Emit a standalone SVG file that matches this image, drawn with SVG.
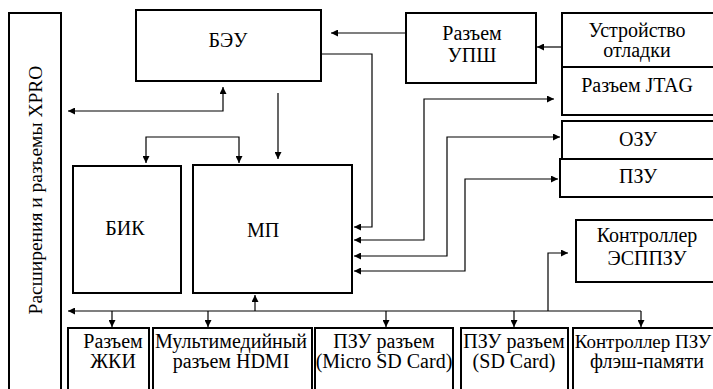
<svg xmlns="http://www.w3.org/2000/svg" width="713" height="389" viewBox="0 0 713 389">
<style>
.box{fill:#fff;stroke:#000;stroke-width:2}
.ln{fill:none;stroke:#000;stroke-width:1.2}
</style>
<defs>
<marker id="ah" viewBox="0 0 10 10" refX="10" refY="5" markerWidth="8" markerHeight="7" markerUnits="userSpaceOnUse" orient="auto-start-reverse">
<path d="M0,0 L10,5 L0,10 Z" fill="#000"/>
</marker>
</defs>
<rect width="713" height="389" fill="#fff"/>
<g text-anchor="middle" fill="#000">
<g id="xpro"><rect class="box" x="9" y="13" width="52" height="390"/><text transform="translate(42,190) rotate(-90)" font-family="'Liberation Serif', serif" font-size="19.5">Расширения и разъемы XPRO</text></g>
<g id="beu"><rect class="box" x="136" y="10" width="185" height="71"/><text x="228" y="47" font-family="'Liberation Serif', serif" font-size="20">БЭУ</text></g>
<g id="upsh"><rect class="box" x="406" y="13" width="130" height="70"/><text x="472" y="40" font-family="'Liberation Serif', serif" font-size="20">Разъем</text><text x="472" y="62" font-family="'Liberation Serif', serif" font-size="20">УПШ</text></g>
<g id="debug"><rect class="box" x="562" y="13" width="160" height="54"/><text x="637" y="37" font-family="'Liberation Serif', serif" font-size="20">Устройство</text><text x="637" y="57" font-family="'Liberation Serif', serif" font-size="20">отладки</text></g>
<g id="jtag"><rect class="box" x="562" y="67" width="160" height="48"/><text x="637" y="92" font-family="'Liberation Serif', serif" font-size="20">Разъем JTAG</text></g>
<g id="ozu"><rect class="box" x="562" y="121" width="160" height="38"/><text x="638" y="146" font-family="'Liberation Serif', serif" font-size="20">ОЗУ</text></g>
<g id="pzu"><rect class="box" x="560" y="159" width="162" height="38"/><text x="638" y="183" font-family="'Liberation Serif', serif" font-size="20">ПЗУ</text></g>
<g id="bik"><rect class="box" x="73" y="166" width="108" height="127"/><text x="125" y="235" font-family="'Liberation Serif', serif" font-size="20">БИК</text></g>
<g id="mp"><rect class="box" x="193" y="165" width="159" height="128"/><text x="263" y="237" font-family="'Liberation Serif', serif" font-size="20">МП</text></g>
<g id="esppzu"><rect class="box" x="576" y="220" width="146" height="62"/><text x="647" y="242" font-family="'Liberation Serif', serif" font-size="20">Контроллер</text><text x="647" y="265" font-family="'Liberation Serif', serif" font-size="20">ЭСППЗУ</text></g>
<g id="lcd"><rect class="box" x="68" y="328" width="81" height="75"/><text x="113" y="348" font-family="'Liberation Serif', serif" font-size="20">Разъем</text><text x="113" y="368" font-family="'Liberation Serif', serif" font-size="20">ЖКИ</text></g>
<g id="hdmi"><rect class="box" x="153" y="328" width="159" height="75"/><text x="231" y="348" font-family="'Liberation Serif', serif" font-size="20">Мультимедийный</text><text x="231" y="368" font-family="'Liberation Serif', serif" font-size="20">разъем HDMI</text></g>
<g id="microsd"><rect class="box" x="315" y="328" width="138" height="75"/><text x="384" y="348" font-family="'Liberation Serif', serif" font-size="20">ПЗУ разъем</text><text x="384" y="368" font-family="'Liberation Serif', serif" font-size="20">(Micro SD Card)</text></g>
<g id="sd"><rect class="box" x="461" y="328" width="107" height="75"/><text x="514" y="348" font-family="'Liberation Serif', serif" font-size="20">ПЗУ разъем</text><text x="514" y="368" font-family="'Liberation Serif', serif" font-size="20">(SD Card)</text></g>
<g id="flash"><rect class="box" x="573" y="328" width="150" height="75"/><text x="643" y="348" font-family="'Liberation Serif', serif" font-size="19">Контроллер ПЗУ</text><text x="647" y="368" font-family="'Liberation Serif', serif" font-size="20">флэш-памяти</text></g>
</g>
<g id="connectors">
<path class="ln" d="M406,33 H331" marker-end="url(#ah)"/>
<path class="ln" d="M321,54 H372 V227 H354" marker-end="url(#ah)"/>
<path class="ln" d="M562,47 H537" marker-end="url(#ah)"/>
<path class="ln" d="M354,240 H424 V99 H554" marker-start="url(#ah)" marker-end="url(#ah)"/>
<path class="ln" d="M354,256 H447 V137 H560" marker-start="url(#ah)" marker-end="url(#ah)"/>
<path class="ln" d="M354,271 H465 V179 H558" marker-start="url(#ah)" marker-end="url(#ah)"/>
<path class="ln" d="M223,87 V111 H68" marker-start="url(#ah)" marker-end="url(#ah)"/>
<path class="ln" d="M278,93 V159" marker-end="url(#ah)"/>
<path class="ln" d="M146,163 V137 H239 V163" marker-start="url(#ah)" marker-end="url(#ah)"/>
<path class="ln" d="M641,311 H68" marker-end="url(#ah)"/>
<path class="ln" d="M112,311 V327" marker-end="url(#ah)"/>
<path class="ln" d="M208,311 V327" marker-end="url(#ah)"/>
<path class="ln" d="M386,311 V327" marker-end="url(#ah)"/>
<path class="ln" d="M514,311 V327" marker-end="url(#ah)"/>
<path class="ln" d="M641,311 V327" marker-end="url(#ah)"/>
<path class="ln" d="M255,311 V295" marker-end="url(#ah)"/>
<path class="ln" d="M548,311 V253 H568" marker-end="url(#ah)"/>
</g>
</svg>
